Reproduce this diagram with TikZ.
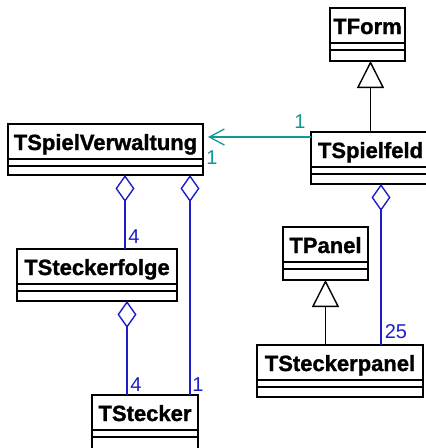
\documentclass[tikz,border=0pt]{standalone}
\usepackage{fontspec}
\setmainfont{Liberation Sans}
\newfontfamily\titlefont{Liberation Sans Bold}[FakeBold=1.2]
\usetikzlibrary{arrows.meta,calc}
\definecolor{umlteal}{RGB}{20,150,150}
\definecolor{umlblue}{RGB}{30,30,200}
\tikzset{
  part/.style={draw=black, line width=1.5pt, fill=white, inner sep=0pt, outer sep=0pt, anchor=north west},
  classtitle/.style={font=\titlefont\fontsize{22}{24}\selectfont, inner sep=0pt, anchor=base},
  lbl/.style={font=\fontsize{20}{22}\selectfont, inner sep=0pt},
  agg/.style={draw=umlblue, line width=1.6pt, -{Diamond[open,length=27pt,width=19pt,line width=1.4pt]}},
  gen/.style={draw=black, line width=1.5pt, -{Triangle[open,length=27pt,width=27pt,line width=1.4pt]}},
  assoc/.style={draw=umlteal, line width=1.5pt, shorten >=5pt, -{Straight Barb[length=15pt,width=16pt,line width=1.3pt]}},
}
% name, x, y, width, height of last part, title
\newcommand{\umlclass}[6]{%
  \node[part, minimum width=#4pt, minimum height=35pt] (#1) at (#2,#3) {};
  \node[part, minimum width=#4pt, minimum height=7pt] (#1-a) at (#1.south west) {};
  \node[part, minimum width=#4pt, minimum height=#5pt] (#1-b) at (#1-a.south west) {};
  \node[classtitle] (#1-t) at ($(#1.north west)+(#4/2,26)$) {#6};
}
\begin{document}
\begin{tikzpicture}[x=1pt,y=-1pt]
  \useasboundingbox (0,0) rectangle (426,448);
  \clip (0,0) rectangle (426,448);
  \umlclass{form}{330}{8}{75}{11}{TForm}
  \umlclass{spielfeld}{311}{132}{119}{10}{TSpielfeld}
  \umlclass{spv}{8}{124}{195}{9}{TSpielVerwaltung}
  \umlclass{sfolge}{17}{249}{160}{10}{TSteckerfolge}
  \umlclass{stecker}{92}{395}{106}{20}{TStecker}
  \umlclass{panel}{283}{227}{85}{11}{TPanel}
  \umlclass{spanel}{257}{345}{166}{10}{TSteckerpanel}

  \coordinate (d1) at (125,0);
  \coordinate (d2) at (190,0);
  \coordinate (d3) at (127,0);
  \coordinate (d4) at (381,0);
  \coordinate (ay) at (0,137);

  \draw[gen] (spielfeld.north) -- (spielfeld.north |- form-b.south);
  \draw[gen] (panel-b.south |- spanel.north) -- (panel-b.south);
  \draw[assoc] (spielfeld.west |- ay) -- (spv.east |- ay);
  \draw[agg] (d1 |- sfolge.north) -- (d1 |- spv-b.south);
  \draw[agg] (d2 |- stecker.north) -- (d2 |- spv-b.south);
  \draw[agg] (d3 |- stecker.north) -- (d3 |- sfolge-b.south);
  \draw[agg] (d4 |- spanel.north) -- (d4 |- spielfeld-b.south);

  \node[lbl, text=umlteal] (l1) at (300,122) {1};
  \node[lbl, text=umlteal] (l2) at (212,158) {1};
  \node[lbl, text=umlblue] (l3) at (134,237) {4};
  \node[lbl, text=umlblue] (l4) at (136,385) {4};
  \node[lbl, text=umlblue] (l5) at (198,385) {1};
  \node[lbl, text=umlblue] (l6) at (396,332) {25};
\end{tikzpicture}
\end{document}
